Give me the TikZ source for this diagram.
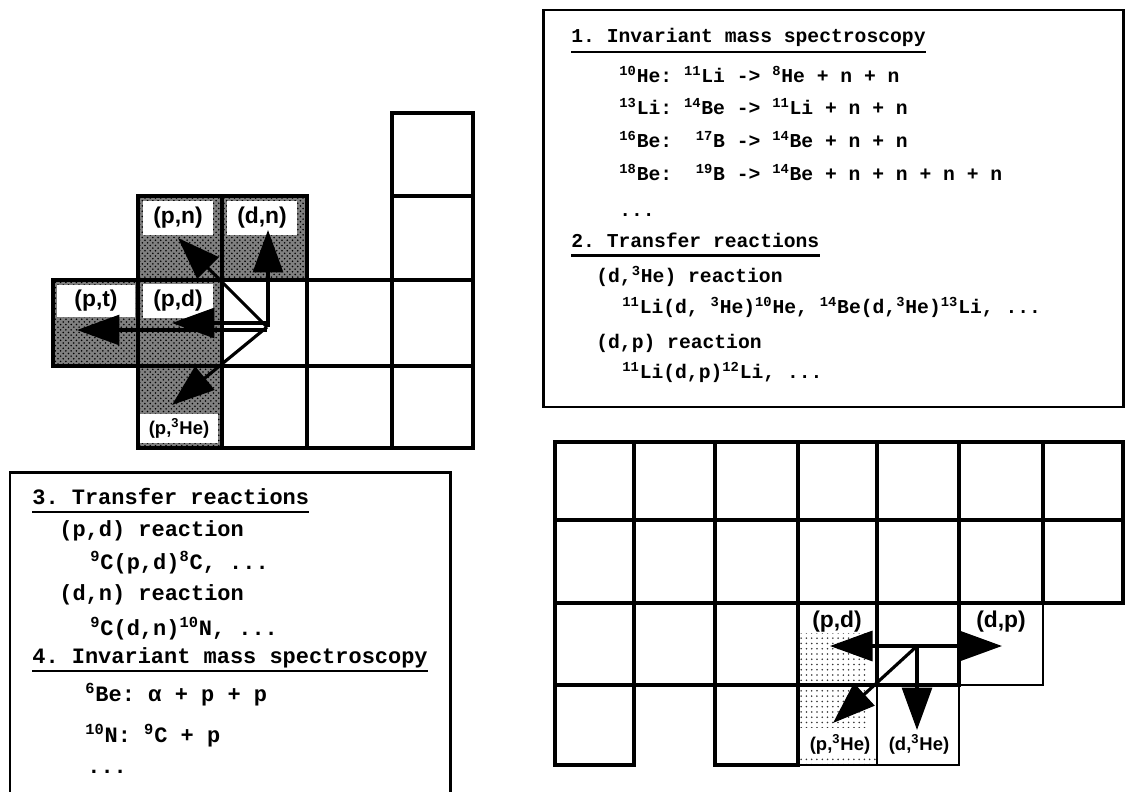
\documentclass[tikz,border=0pt]{standalone}
\usepackage{fontspec}
\setsansfont{Liberation Sans}
\setmonofont{Liberation Mono}
\usetikzlibrary{arrows.meta, patterns, positioning}

\newcommand{\iso}[1]{\textsuperscript{#1}}

\tikzset{
  gridcell/.style={draw=black, line width=1.8pt},
  thincell/.style={draw=black, line width=0.8pt},
  darkshade/.style={preaction={fill=black!50}, pattern=crosshatch dots, pattern color=black},
  lightshade/.style={pattern=dots, pattern color=black!80},
  tag/.style={font=\sffamily\bfseries\fontsize{13}{15}\selectfont, inner sep=0pt},
  tagbox/.style={tag, fill=white, minimum width=1.42cm, minimum height=0.68cm},
  smalltag/.style={font=\sffamily\bfseries\fontsize{10.5}{12}\selectfont, inner sep=0pt},
  bigarrow/.style={line width=1.8pt, -{Triangle[length=0.85cm, width=0.6cm]}},
  framebox/.style={draw=black, line width=1.7pt},
  ttline/.style={anchor=base west, inner sep=0pt, font=\ttfamily\bfseries\fontsize{11.2}{13}\selectfont},
  ttlarge/.style={anchor=base west, inner sep=0pt, font=\ttfamily\bfseries\fontsize{12.5}{14}\selectfont},
  uline/.style={line width=1.6pt},
}

\begin{document}
\begin{tikzpicture}[x=0.02cm, y=-0.02cm]
\useasboundingbox (0,0) rectangle (1125,791);
\fill[white] (0,0) rectangle (1125,791);

% Upper-left chart: shaded cells
\fill[darkshade] (138,196) rectangle (307,280);
\fill[darkshade] (53,280) rectangle (222,366);
\fill[darkshade] (138,366) rectangle (222,448);

% Labels on white patches
\node[tagbox] (pn) at (178,218) {(p,n)};
\node[tagbox] (dn) at (262,218) {(d,n)};
\node[tagbox, minimum width=1.58cm, minimum height=0.64cm] (pt) at (96,301) {(p,t)};
\node[tagbox] (pd) at (178,301) {(p,d)};
\node[tagbox, smalltag, minimum width=1.56cm, minimum height=0.58cm] (ph) at (179,428) {(p,\textsuperscript{3}He)};

% Cell outlines
\draw[gridcell] (392,113) rectangle (473,196);
\draw[gridcell] (138,196) rectangle (222,280);
\draw[gridcell] (222,196) rectangle (307,280);
\draw[gridcell] (392,196) rectangle (473,280);
\foreach \xa/\xb in {53/138,138/222,222/307,307/392,392/473}
  \draw[gridcell] (\xa,280) rectangle (\xb,366);
\foreach \xa/\xb in {138/222,222/307,307/392,392/473}
  \draw[gridcell] (\xa,366) rectangle (\xb,448);

% Reaction arrows
\coordinate (oA) at (267,327);
\coordinate (oAup) at (267,323);
\coordinate (oAdn) at (267,330);
\coordinate (pnTip) at (178,238);
\coordinate (dnTip) at (268,230);
\coordinate (ptTip) at (77,330);
\coordinate (pdTip) at (172,323);
\coordinate (phTip) at (172,405);
\draw[bigarrow] (oA) -- (pnTip);
\draw[bigarrow] (oA -| dnTip) -- (dnTip);
\draw[bigarrow] (oAdn) -- (ptTip);
\draw[bigarrow] (oAup) -- (pdTip);
\draw[bigarrow] (oA) -- (phTip);

% Lower-right chart: stippled area
\fill[lightshade] (798,633) rectangle (868,685);
\fill[lightshade] (798,685) rectangle (866,727);
\fill[lightshade] (798,757) rectangle (877,765);

% Thin cells
\draw[thincell] (959,603) rectangle (1043,685);
\draw[thincell] (798,685) rectangle (877,765);
\draw[thincell] (877,685) rectangle (959,765);

% Thick cells
\foreach \ya/\yb in {442/520,520/603}
  \foreach \xa/\xb in {555/634,634/715,715/798,798/877,877/959,959/1043,1043/1123}
    \draw[gridcell] (\xa,\ya) rectangle (\xb,\yb);
\foreach \xa/\xb in {555/634,634/715,715/798,798/877,877/959}
  \draw[gridcell] (\xa,603) rectangle (\xb,685);
\draw[gridcell] (555,685) rectangle (634,765);
\draw[gridcell] (715,685) rectangle (798,765);
\draw[gridcell] (798,685) -- (798,765);

% Labels
\node[tag] (pd2) at (837,622) {(p,d)};
\node[tag] (dp2) at (1001,622) {(d,p)};
\node[smalltag] (ph2) at (840,744) {(p,\textsuperscript{3}He)};
\node[smalltag] (dh2) at (919,744) {(d,\textsuperscript{3}He)};

% Reaction arrows
\coordinate (oB) at (917,646);
\coordinate (pdTipB) at (830,646);
\coordinate (dpTipB) at (1002,646);
\coordinate (phTipB) at (833,723);
\coordinate (dhTipB) at (917,730);
\draw[bigarrow] (oB) -- (pdTipB);
\draw[bigarrow] (oB) -- (dpTipB);
\draw[bigarrow] (oB) -- (phTipB);
\draw[bigarrow] (oB) -- (dhTipB);

% Upper-right text box
\draw[framebox] (543,10) rectangle (1123,407);
\node[ttline] (h1) at (571,42) {1. Invariant mass spectroscopy};
\draw[uline] ([yshift=-0.2cm]h1.base west) -- ([yshift=-0.2cm]h1.base east);
\node[ttline] (r1) at (619,82) {\iso{10}He: \iso{11}Li -> \iso{8}He + n + n};
\node[ttline] (r2) at (619,114) {\iso{13}Li: \iso{14}Be -> \iso{11}Li + n + n};
\node[ttline] (r3) at (619,147) {\iso{16}Be: ~\iso{17}B -> \iso{14}Be + n + n};
\node[ttline] (r4) at (619,180) {\iso{18}Be: ~\iso{19}B -> \iso{14}Be + n + n + n + n};
\node[ttline] (r5) at (619,216) {...};
\node[ttline] (h2) at (571,247) {2. Transfer reactions};
\draw[uline] ([yshift=-0.17cm]h2.base west) -- ([yshift=-0.17cm]h2.base east);
\node[ttline] (r6) at (596,282) {(d,\iso{3}He) reaction};
\node[ttline] (r7) at (622,313) {\iso{11}Li(d, \iso{3}He)\iso{10}He, \iso{14}Be(d,\iso{3}He)\iso{13}Li, ...};
\node[ttline] (r8) at (596,348) {(d,p) reaction};
\node[ttline] (r9) at (622,378) {\iso{11}Li(d,p)\iso{12}Li, ...};

% Lower-left text box
\draw[framebox] (10,795) -- (10,472) -- (450,472) -- (450,795);
\node[ttlarge] (h3) at (32,504) {3. Transfer reactions};
\draw[uline] ([yshift=-0.16cm]h3.base west) -- ([yshift=-0.16cm]h3.base east);
\node[ttlarge] (s1) at (59,536) {(p,d) reaction};
\node[ttlarge] (s2) at (90,569) {\iso{9}C(p,d)\iso{8}C, ...};
\node[ttlarge] (s3) at (59,600) {(d,n) reaction};
\node[ttlarge] (s4) at (90,635) {\iso{9}C(d,n)\iso{10}N, ...};
\node[ttlarge] (h4) at (32,663) {4. Invariant mass spectroscopy};
\draw[uline] ([yshift=-0.16cm]h4.base west) -- ([yshift=-0.16cm]h4.base east);
\node[ttlarge] (s5) at (85,701) {\iso{6}Be: {\sffamily α} + p + p};
\node[ttlarge] (s6) at (85,742) {\iso{10}N: \iso{9}C + p};
\node[ttlarge] (s7) at (87,773) {...};
\end{tikzpicture}
\end{document}
